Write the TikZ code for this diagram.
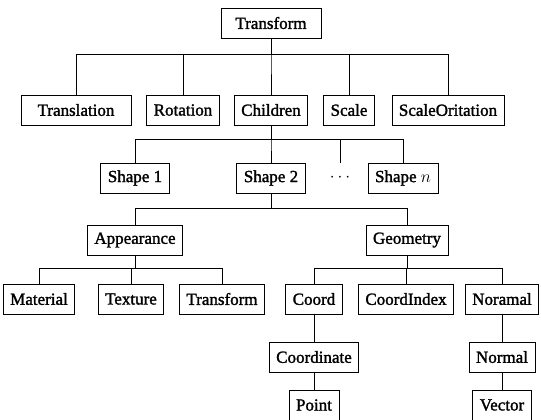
\documentclass[tikz,border=0pt]{standalone}
\usepackage{fontspec}
\newfontfamily\boxfont{Liberation Serif}[FakeBold=1.6]
\tikzset{box/.style={draw, minimum height=30pt, inner xsep=7pt, inner ysep=2pt,
  font=\boxfont\fontsize{17}{20}\selectfont}}
\begin{document}
\begin{tikzpicture}[x=1pt, y=-1pt, line width=.8pt]
  \useasboundingbox (0,0) rectangle (541,420);
  \node[box, minimum width=100pt] (tf) at (271,23) {Transform};
  \node[box, minimum width=110pt] (tl) at (76,110) {Translation};
  \foreach \n/\x/\t in {ro/183/Rotation,ch/271/Children,sc/349/Scale,so/448/ScaleOritation}
    \node[box] (\n) at (\x,110) {\t};
  \foreach \n/\x/\t in {s1/135/Shape 1,s2/271/Shape 2,sn/403/Shape $n$}
    \node[box] (\n) at (\x,178) {\t};
  \node[box, draw=none] (dt) at (340,178) {$\cdots$};
  \node[box] (ap) at (135,240) {Appearance};
  \node[box] (ge) at (407,240) {Geometry};
  \foreach \n/\x/\t in {ma/39/Material,te/131/Texture,tm/222/Transform,co/314/Coord,ci/406/CoordIndex,no/502/Noramal}
    \node[box] (\n) at (\x,299) {\t};
  \node[box] (cd) at (314,357) {Coordinate};
  \node[box] (nm) at (502,357) {Normal};
  \node[box] (pt) at (314,405) {Point};
  \node[box] (ve) at (502,405) {Vector};
  % connectors
  \foreach \c in {tl,ro,ch,sc,so} \draw (tf.south) -- ++(0,16) -| (\c.north);
  \foreach \c in {s1,s2,dt,sn} \draw (ch.south) -- ++(0,14) -| (\c.north);
  \foreach \c in {ap,ge} \draw (s2.south) -- ++(0,15) -| (\c.north);
  \foreach \c in {ma,te,tm} \draw (ap.south) -- ++(0,13) -| (\c.north);
  \foreach \c in {co,ci,no} \draw (ge.south) -- ++(0,13) -| (\c.north);
  \draw (co) -- (cd) -- (pt);
  \draw (no) -- (nm) -- (ve);
\end{tikzpicture}
\end{document}
